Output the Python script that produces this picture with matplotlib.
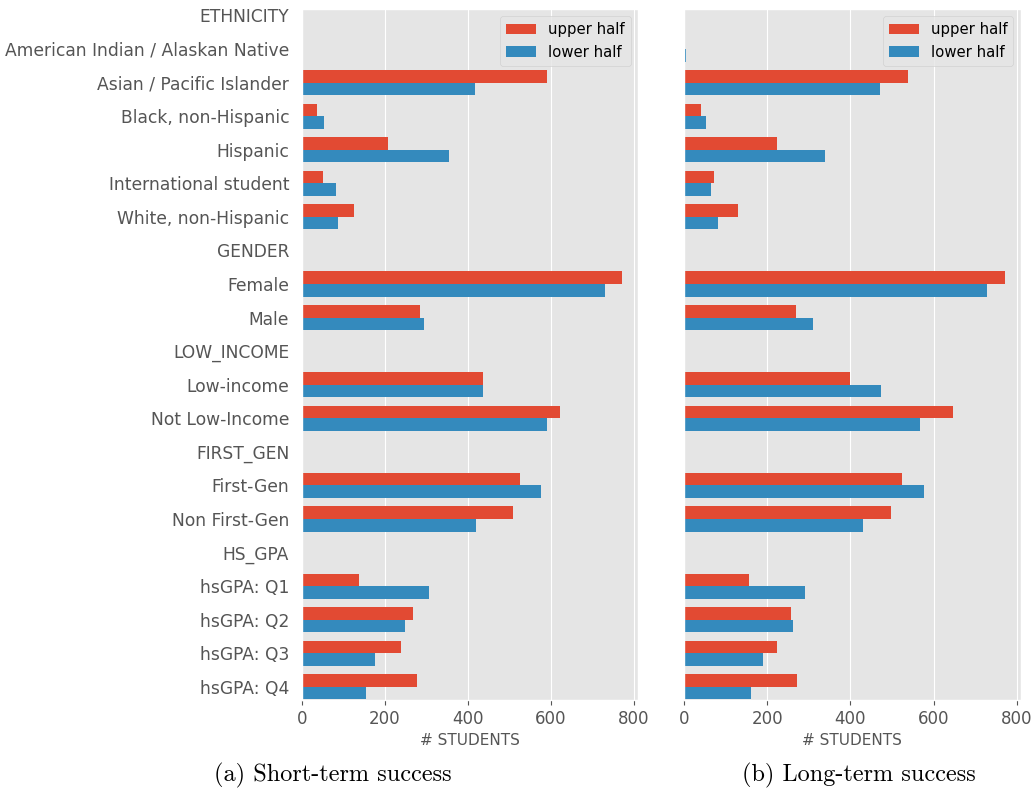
import matplotlib
matplotlib.use("Agg")
import matplotlib.pyplot as plt
import numpy as np

plt.style.use("ggplot")
plt.rcParams["font.family"] = ["DejaVu Sans"]

categories = [
    "ETHNICITY", "American Indian / Alaskan Native", "Asian / Pacific Islander",
    "Black, non-Hispanic", "Hispanic", "International student", "White, non-Hispanic",
    "GENDER", "Female", "Male",
    "LOW_INCOME", "Low-income", "Not Low-Income",
    "FIRST_GEN", "First-Gen", "Non First-Gen",
    "HS_GPA", "hsGPA: Q1", "hsGPA: Q2", "hsGPA: Q3", "hsGPA: Q4",
]

# short-term success counts
short_upper = [0, 0, 592, 38, 209, 52, 125, 0, 772, 285, 0, 436, 623, 0, 525, 509, 0, 139, 269, 239, 277]
short_lower = [0, 3, 418, 53, 354, 83, 88, 0, 730, 294, 0, 437, 591, 0, 577, 419, 0, 308, 249, 176, 156]

# long-term success counts
long_upper = [0, 0, 538, 40, 223, 72, 129, 0, 771, 270, 0, 398, 646, 0, 523, 497, 0, 156, 256, 224, 271]
long_lower = [0, 3, 470, 53, 339, 64, 82, 0, 728, 309, 0, 473, 567, 0, 578, 430, 0, 291, 261, 189, 161]

captions = ["(a) Short-term success", "(b) Long-term success"]

fig = plt.figure(figsize=(10.34, 7.89), dpi=100)
fig.patch.set_facecolor("white")
ax1 = fig.add_axes([0.2918, 0.1128, 0.3252, 0.8758])
ax2 = fig.add_axes([0.6618, 0.1128, 0.3252, 0.8758])

y = np.arange(len(categories))
h = 0.375

for ax, upper, lower in [(ax1, short_upper, short_lower), (ax2, long_upper, long_lower)]:
    ax.barh(y - h / 2, upper, height=h, color="#E24A33", label="upper half")
    ax.barh(y + h / 2, lower, height=h, color="#348ABD", label="lower half")
    ax.set_ylim(20.39, -0.19)
    ax.set_xticks([0, 200, 400, 600, 800])
    ax.tick_params(axis="x", labelsize=12, colors="#555555")
    ax.tick_params(axis="y", length=0, pad=9)
    ax.set_xlabel("# STUDENTS", fontsize=11, color="#555555", labelpad=4)
    ax.grid(axis="y", visible=False)
    ax.legend(loc="upper right", fontsize=10.7)

ax1.set_yticks(y)
ax1.set_yticklabels(categories, fontsize=12.3, color="#555555")
ax2.set_yticks(y)
ax2.set_yticklabels([])

fig.text(0.322, 0.0177, captions[0], fontname="cmr10", fontsize=17.5, ha="center", va="center")
fig.text(0.831, 0.0177, captions[1], fontname="cmr10", fontsize=17.5, ha="center", va="center")

fig.savefig("out.png", dpi=100)
